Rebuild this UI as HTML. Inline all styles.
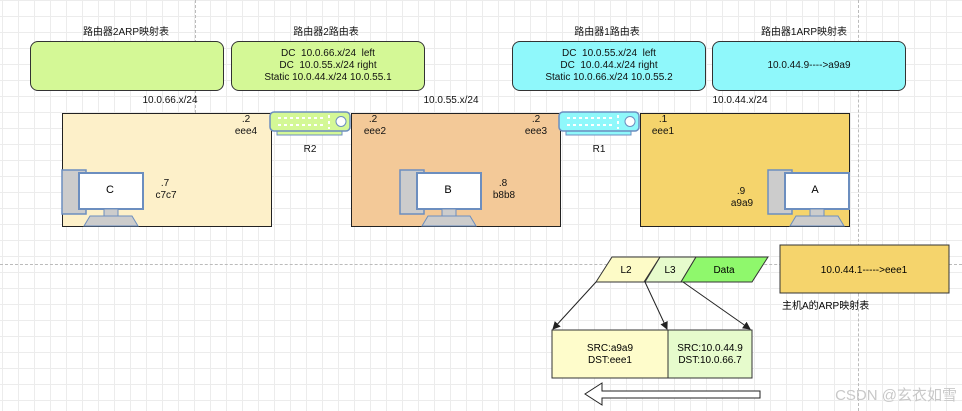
<!DOCTYPE html>
<html><head><meta charset="utf-8"><style>
body{margin:0;width:962px;height:411px;overflow:hidden;font-family:"Liberation Sans","Noto Sans CJK SC",sans-serif;font-size:10px;color:#111;
background-color:#fff;background-image:linear-gradient(#ececec 1px,transparent 1px),linear-gradient(90deg,#ececec 1px,transparent 1px);background-size:16px 16px;background-position:2px 0;}
.a{position:absolute}
.t{position:absolute;text-align:center;white-space:nowrap}
.rb{position:absolute;border:1px solid #333;border-radius:8px;display:flex;align-items:center;justify-content:center;text-align:center;line-height:12px}
.r{position:absolute;border:1px solid #222}
</style></head><body>
<div class="a" style="left:195px;top:0;height:113px;border-left:1px dashed #bbb"></div>
<div class="a" style="left:858px;top:0;height:411px;border-left:1px dashed #bbb"></div>
<div class="a" style="left:0;top:264px;width:962px;border-top:1px dashed #bbb"></div>

<div class="t" style="left:76px;top:23px;width:100px">路由器2ARP映射表</div>
<div class="t" style="left:276px;top:23px;width:100px">路由器2路由表</div>
<div class="t" style="left:557px;top:23px;width:100px">路由器1路由表</div>
<div class="t" style="left:754px;top:23px;width:100px">路由器1ARP映射表</div>

<div class="rb" style="left:30px;top:41px;width:192px;height:48px;background:#d4f896"></div>
<div class="rb" style="left:231px;top:41px;width:192px;height:48px;background:#d4f896">DC&nbsp; 10.0.66.x/24&nbsp; left<br>DC&nbsp; 10.0.55.x/24 right<br>Static 10.0.44.x/24 10.0.55.1</div>
<div class="rb" style="left:512px;top:41px;width:192px;height:48px;background:#8ff8fb">DC&nbsp; 10.0.55.x/24&nbsp; left<br>DC&nbsp; 10.0.44.x/24 right<br>Static 10.0.66.x/24 10.0.55.2</div>
<div class="rb" style="left:712px;top:41px;width:192px;height:48px;background:#8ff8fb">10.0.44.9----&gt;a9a9</div>

<div class="t" style="left:130px;top:95px;width:80px">10.0.66.x/24</div>
<div class="t" style="left:411px;top:95px;width:80px">10.0.55.x/24</div>
<div class="t" style="left:700px;top:95px;width:80px">10.0.44.x/24</div>

<div class="r" style="left:62px;top:113px;width:208px;height:112px;background:#fdf0c9"></div>
<div class="r" style="left:351px;top:113px;width:208px;height:112px;background:#f3c998"></div>
<div class="r" style="left:640px;top:113px;width:208px;height:112px;background:#f5d46c"></div>

<div class="t" style="left:236px;top:114px;width:20px">.2</div>
<div class="t" style="left:228px;top:126px;width:36px">eee4</div>
<div class="t" style="left:363px;top:114px;width:20px">.2</div>
<div class="t" style="left:357px;top:126px;width:36px">eee2</div>
<div class="t" style="left:526px;top:114px;width:20px">.2</div>
<div class="t" style="left:518px;top:126px;width:36px">eee3</div>
<div class="t" style="left:653px;top:114px;width:20px">.1</div>
<div class="t" style="left:645px;top:126px;width:36px">eee1</div>
<div class="t" style="left:300px;top:144px;width:20px">R2</div>
<div class="t" style="left:589px;top:144px;width:20px">R1</div>
<div class="t" style="left:155px;top:178px;width:20px">.7</div>
<div class="t" style="left:150px;top:190px;width:32px">c7c7</div>
<div class="t" style="left:493px;top:178px;width:20px">.8</div>
<div class="t" style="left:488px;top:190px;width:32px">b8b8</div>
<div class="t" style="left:731px;top:186px;width:20px">.9</div>
<div class="t" style="left:726px;top:198px;width:32px">a9a9</div>

<svg class="a" style="left:0;top:0" width="962" height="411">
<defs>
<g id="rt"><rect x="7" y="19" width="65" height="4" stroke="#6c8ebf"/>
<rect x="0" y="0" width="80" height="19" rx="4" stroke="#6c8ebf" stroke-width="1.5"/>
<g stroke="#fff" stroke-width="2" stroke-dasharray="3 3"><line x1="8" y1="6" x2="56" y2="6"/><line x1="8" y1="13" x2="56" y2="13"/><line x1="59" y1="3" x2="59" y2="17"/></g>
<circle cx="71" cy="9.5" r="5" fill="#fff" stroke="#6c8ebf"/></g>
<g id="pc"><rect x="0" y="0" width="24" height="44" fill="#ccc" stroke="#6c8ebf" stroke-width="1.5"/>
<rect x="17" y="3" width="64" height="36" fill="#fff" stroke="#6c8ebf" stroke-width="2"/>
<rect x="42" y="39" width="14" height="7" fill="#ccc" stroke="#6c8ebf"/>
<path d="M22 56 L28 46 L70 46 L76 56Z" fill="#ccc" stroke="#6c8ebf"/></g>
<marker id="ah" markerWidth="8" markerHeight="8" refX="7" refY="4" orient="auto"><path d="M0 0L8 4L0 8Z" fill="#222"/></marker>
</defs>
<use href="#rt" x="270" y="112" fill="#d4f896"/>
<use href="#rt" x="559" y="112" fill="#8ff8fb"/>
<use href="#pc" x="62" y="170"/>
<use href="#pc" x="400" y="170"/>
<use href="#pc" x="768" y="170"/>
<text x="110" y="193" font-size="11" text-anchor="middle">C</text>
<text x="448" y="193" font-size="11" text-anchor="middle">B</text>
<text x="815" y="193" font-size="11" text-anchor="middle">A</text>
<path d="M612 257 L660 257 L644 282 L596 282Z" fill="#fdfbc7" stroke="#333"/>
<path d="M660 257 L696 257 L681 282 L645 282Z" fill="#e6fbcc" stroke="#333"/>
<path d="M696 257 L768 257 L752 282 L681 282Z" fill="#8ff86c" stroke="#333"/>
<text x="626" y="273" text-anchor="middle" font-size="10">L2</text>
<text x="670" y="273" text-anchor="middle" font-size="10">L3</text>
<text x="724" y="273" text-anchor="middle" font-size="10">Data</text>
<line x1="596" y1="282" x2="553" y2="329" stroke="#222" marker-end="url(#ah)"/>
<line x1="645" y1="282" x2="667" y2="329" stroke="#222" marker-end="url(#ah)"/>
<line x1="683" y1="282" x2="750" y2="329" stroke="#222" marker-end="url(#ah)"/>
<rect x="552" y="330" width="116" height="48" fill="#fefccb" stroke="#333"/>
<rect x="668" y="330" width="84" height="48" fill="#e6fbcc" stroke="#333"/>
<text x="610" y="351" text-anchor="middle" font-size="10">SRC:a9a9</text>
<text x="610" y="363" text-anchor="middle" font-size="10">DST:eee1</text>
<text x="710" y="351" text-anchor="middle" font-size="10">SRC:10.0.44.9</text>
<text x="710" y="363" text-anchor="middle" font-size="10">DST:10.0.66.7</text>
<path d="M760 391 L602 391 L602 383 L585 394 L602 405 L602 398 L760 398Z" fill="#fff" stroke="#222"/>
<rect x="780" y="245" width="169" height="48" fill="#f5d46c" stroke="#333"/>
<text x="864" y="273" text-anchor="middle" font-size="10">10.0.44.1-----&gt;eee1</text>
<text x="782" y="309" font-size="10" font-family="Liberation Sans,Noto Sans CJK SC,sans-serif">主机A的ARP映射表</text>
<text x="957" y="400" text-anchor="end" font-size="15" fill="#c8c8c8" font-family="Liberation Sans,Noto Sans CJK SC,sans-serif">CSDN @玄衣如雪</text>
</svg>
</body></html>
